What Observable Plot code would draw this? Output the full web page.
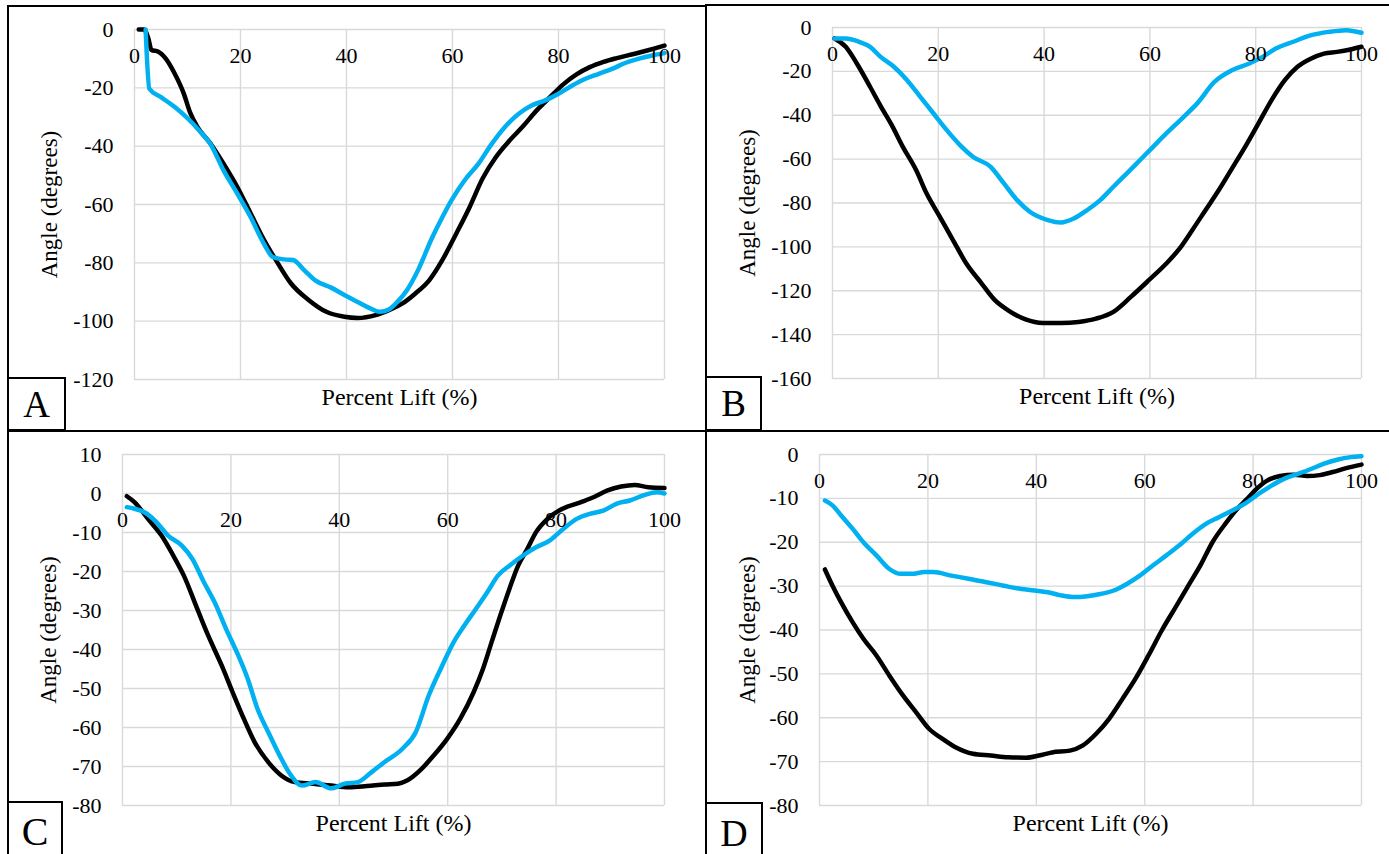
<!DOCTYPE html>
<html>
<head>
<meta charset="utf-8">
<script src="https://cdn.jsdelivr.net/npm/d3@7"></script>
<script src="https://cdn.jsdelivr.net/npm/@observablehq/plot@0.6"></script>
<style>
  html, body { margin: 0; padding: 0; background: #fff; }
  #root { position: relative; width: 1389px; height: 854px; overflow: hidden; background: #fff; font-family: 'Liberation Serif', serif; }
  .panel { position: absolute; }
  .line { position: absolute; background: #000; }
  .letter { position: absolute; box-sizing: border-box; border: 2px solid #000; background: #fff;
            font-family: 'Liberation Serif', serif; font-weight: normal; color: #000;
            display: flex; align-items: center; justify-content: center; }
</style>
</head>
<body>
<div id="root"></div>
<script>
// ---------- data ----------
const xTicks = [0, 20, 40, 60, 80, 100];
const yTicksA = [0, -20, -40, -60, -80, -100, -120];
const yTicksB = [0, -20, -40, -60, -80, -100, -120, -140, -160];
const yTicksC = [10, 0, -10, -20, -30, -40, -50, -60, -70, -80];
const yTicksD = [0, -10, -20, -30, -40, -50, -60, -70, -80];
const xTitle = "Percent Lift (%)";
const yTitle = "Angle (degrees)";
const panelLetters = ["A", "B", "C", "D"];

const aBlack = [[0.8,0],[1.8,0],[2.6,-3],[3.2,-7],[4.5,-7.6],[5.9,-10],[7.6,-15.2],[9.3,-22],[10.5,-28.5],[11.8,-33.2],[14.3,-39],[16.8,-46],[19.4,-54],[21.9,-63],[24.4,-72],[27,-80],[29.5,-87],[32.9,-92.8],[36.2,-96.8],[39.6,-98.5],[42.1,-98.9],[45.5,-97.9],[48,-96.2],[50.5,-94],[53,-90.5],[55.6,-86],[58.1,-79],[60.7,-70],[63.2,-61],[65.7,-51],[68.2,-43.7],[70.8,-38],[73.3,-33.2],[75.8,-27.9],[78.4,-23.2],[80.9,-18.8],[83.4,-15.4],[85.9,-12.9],[88.5,-11.1],[91,-9.8],[94.4,-8.3],[96.9,-7.1],[100,-5.5]];
const aBlue = [[2.1,0],[2.8,-20.3],[5,-23.2],[7.6,-26.6],[10.1,-30.6],[12.2,-34.6],[14.3,-39.2],[16.8,-48.3],[19.4,-56.3],[21.9,-64.3],[24.4,-73.4],[26.1,-78],[28.6,-78.9],[29.9,-79],[32,-82.5],[34.1,-86],[37.1,-88.5],[39.6,-91],[42.1,-93.4],[44.6,-95.7],[46.3,-96.8],[48,-96],[49.6,-93.4],[51.4,-89.4],[53.5,-82.5],[56,-72],[58.1,-64.3],[59.8,-58.6],[62.3,-51.7],[64.9,-46],[67.4,-39.2],[69.9,-33.4],[72.5,-28.9],[75,-26],[77.5,-24.3],[80,-22],[82.6,-19.2],[85.1,-16.9],[87.6,-15.2],[90.1,-13.5],[92.7,-11.4],[95.2,-10],[97.7,-8.9],[100,-8.1]];
const bBlack = [[0.4,-5],[2.5,-8.8],[4.6,-16.4],[7.1,-27],[9.1,-35.8],[11.2,-44.5],[13.3,-54.4],[15.8,-65],[17.8,-75.7],[20.3,-86.3],[22.8,-97],[25.3,-107.6],[28.2,-116.7],[30.7,-124.3],[33.2,-128.9],[36.5,-133.1],[39.8,-134.7],[43.2,-134.7],[46.5,-134.2],[49.8,-132.7],[53.1,-129.6],[56.4,-122.8],[59.8,-115.2],[63.1,-107.6],[65.6,-100.8],[68,-92.4],[70.5,-83.3],[73,-74.2],[75.5,-64.3],[78,-54.4],[80.5,-43.8],[83,-33.1],[85.5,-24],[87.9,-17.9],[90.5,-14.1],[92.9,-11.9],[95.4,-11.1],[97.9,-10],[100,-8.8]];
const bBlue = [[0.4,-5],[2.5,-5],[5,-6.5],[7.1,-8.8],[9.1,-13.4],[11.6,-17.9],[14.1,-24],[16.6,-31.6],[19.1,-39.2],[21.6,-46.8],[24.1,-53.6],[26.6,-59],[29.9,-63.5],[32.4,-71.1],[34.9,-78.7],[37.3,-84],[40.7,-87.8],[43.2,-88.9],[45.6,-87.1],[48.1,-83.3],[50.6,-78.7],[53.1,-72.6],[55.6,-66.6],[58.1,-60.5],[60.6,-54.4],[63.1,-48.3],[66.4,-40.7],[68.9,-34.7],[72.2,-24.8],[75.5,-19.5],[78.8,-16.4],[81.3,-13.4],[83.8,-9.6],[87.1,-6.5],[90.5,-3.5],[93.8,-2],[97.1,-1.2],[100,-2.4]];
const cBlack = [[0.8,-0.7],[2.2,-2.2],[4.7,-6.5],[7.2,-10.8],[9.2,-15.5],[11.3,-21],[13.8,-29.6],[15.8,-36.4],[18.3,-44.1],[20.3,-50.9],[22.4,-57.8],[24.4,-63.8],[26.9,-68.9],[29.3,-72.3],[31.8,-74],[35.2,-74.4],[38.5,-74.9],[41.8,-75.3],[45.1,-75],[48.4,-74.6],[50.8,-74.4],[52.5,-73.6],[54.9,-71],[57.4,-67.2],[59.9,-62.9],[62.3,-57.8],[64.8,-50.9],[66.5,-45],[68.1,-38.1],[69.7,-31.3],[71.4,-24.4],[73,-18.5],[74.7,-14.2],[76.3,-9.9],[78.4,-6.5],[81.2,-3.9],[84.6,-2.2],[87,-0.9],[89.5,0.8],[92,1.8],[94.5,2.2],[97,1.6],[100,1.4]];
const cBlue = [[0.8,-3.5],[2.2,-3.9],[4.3,-5],[6.3,-7.4],[8.4,-10.8],[10.9,-13.3],[12.9,-16.8],[15,-22.7],[17,-27.9],[19.1,-34.7],[21.1,-40.7],[23.1,-47.5],[24.9,-55.2],[26.9,-61.2],[29,-67.2],[31.1,-72.3],[33.1,-74.9],[35.6,-74],[38.5,-75.6],[41,-74.4],[43.4,-74],[45.9,-71.5],[48.3,-68.9],[51.6,-65.5],[54.1,-61.2],[56.5,-51.8],[59,-44.1],[61.1,-38.1],[63.1,-33.8],[65.2,-29.6],[67.3,-25.3],[69.3,-21],[71.4,-18.5],[73.9,-15.9],[76.3,-13.8],[78.8,-12.1],[81.3,-9.1],[83.8,-6.5],[86.2,-5.2],[88.7,-4.4],[91.2,-2.6],[93.6,-1.8],[96.1,-0.5],[98.6,0.3],[100,0]];
const dBlack = [[1,-26.2],[2.4,-29.9],[4,-33.7],[6.1,-38.2],[8.1,-42],[10.5,-45.8],[12.9,-50.4],[15.4,-54.9],[17.8,-58.7],[20.2,-62.5],[22.7,-64.8],[25.1,-66.7],[28.3,-68.2],[31.6,-68.6],[34.8,-69],[38.1,-69.1],[40.5,-68.6],[42.9,-67.9],[46.2,-67.5],[48.6,-66.3],[51,-63.7],[53.4,-60.3],[55.9,-55.7],[58.3,-51.1],[60.7,-45.8],[63.2,-40],[65.6,-35],[68,-30],[70.4,-25],[72.5,-20],[75,-15.6],[77,-12.5],[79,-10],[80.5,-8],[82.5,-6],[85,-4.9],[87.5,-4.6],[90,-4.9],[92.3,-4.7],[94.7,-4],[97.2,-3.1],[100,-2.3]];
const dBlue = [[1,-10.5],[2.4,-11.6],[4,-13.9],[6.1,-16.9],[8.1,-20],[10.5,-23],[12.9,-26.1],[15,-27.2],[17,-27.2],[19.4,-26.8],[21,-26.8],[24.3,-27.6],[27.5,-28.3],[30.8,-29.1],[34,-29.9],[36.4,-30.5],[39.7,-31],[42.1,-31.4],[44.5,-32.1],[47,-32.5],[49.4,-32.3],[51.8,-31.8],[54.3,-31],[56.7,-29.5],[59.1,-27.6],[61.5,-25.3],[64,-23],[66.4,-20.7],[68.8,-18.1],[71.3,-15.8],[73.7,-14.3],[76.1,-12.8],[78.5,-11.2],[81,-9],[83.4,-7.1],[85.8,-5.5],[88.3,-4.4],[90.7,-3.3],[93.1,-2.1],[95.5,-1.2],[98,-0.6],[100,-0.4]];

// ---------- layout ----------
const panels = [
  {left: 8,   top: 6,   width: 698, height: 425, ml: 126, mr: 42, mt: 23, mb: 52, yTicks: yTicksA, black: aBlack, blue: aBlue, titleDx: -85},
  {left: 706, top: 5,   width: 683, height: 426, ml: 126, mr: 28, mt: 22, mb: 53, yTicks: yTicksB, black: bBlack, blue: bBlue, titleDx: -85},
  {left: 8,   top: 431, width: 698, height: 423, ml: 114, mr: 42, mt: 23, mb: 49, yTicks: yTicksC, black: cBlack, blue: cBlue, titleDx: -74},
  {left: 706, top: 431, width: 683, height: 423, ml: 113, mr: 28, mt: 23, mb: 49, yTicks: yTicksD, black: dBlack, blue: dBlue, titleDx: -72}
];
const letterBoxes = [
  {left: 8, top: 378, width: 58, height: 53, size: 37},
  {left: 706, top: 377, width: 56, height: 54, size: 37},
  {left: 8, top: 802, width: 55, height: 60, size: 40},
  {left: 706, top: 803, width: 57, height: 60, size: 38}
];
const font = "'Liberation Serif', serif";
const grid = "#d9d9d9";
const root = document.getElementById("root");

panels.forEach((p) => {
  const yDomain = [d3.min(p.yTicks), d3.max(p.yTicks)];
  const toObj = (arr) => arr.map(([x, y]) => ({x, y}));
  const common = {fontFamily: font, fill: "#000", lineAnchor: "middle"};
  const chart = Plot.plot({
    width: p.width, height: p.height,
    marginLeft: p.ml, marginRight: p.mr, marginTop: p.mt, marginBottom: p.mb,
    x: {domain: [0, 100], axis: null, nice: false},
    y: {domain: yDomain, axis: null, nice: false},
    style: {background: "transparent", overflow: "visible", color: "#000"},
    marks: [
      Plot.ruleX(xTicks, {x: d => d, stroke: grid, strokeWidth: 1.4}),
      Plot.ruleY(p.yTicks, {y: d => d, stroke: grid, strokeWidth: 1.4}),
      Plot.line(toObj(p.black), {x: "x", y: "y", stroke: "#000", strokeWidth: 4.5, curve: "monotone-x", strokeLinejoin: "round", strokeLinecap: "round"}),
      Plot.line(toObj(p.blue), {x: "x", y: "y", stroke: "#00b0f0", strokeWidth: 4.5, curve: "monotone-x", strokeLinejoin: "round", strokeLinecap: "round"}),
      Plot.text(xTicks, {...common, x: d => d, y: () => 0, text: d => String(d), dy: 26, fontSize: 22, textAnchor: "middle"}),
      Plot.text(p.yTicks, {...common, x: () => 0, y: d => d, text: d => String(d), dx: -21, fontSize: 22, textAnchor: "end"}),
      Plot.text([yTitle], {...common, text: d => d, frameAnchor: "left", rotate: -90, dx: p.titleDx, fontSize: 23, textAnchor: "middle"}),
      Plot.text([xTitle], {...common, text: d => d, frameAnchor: "bottom", dy: 18, fontSize: 24, textAnchor: "middle"})
    ]
  });
  const holder = document.createElement("div");
  holder.className = "panel";
  holder.style.left = p.left + "px";
  holder.style.top = p.top + "px";
  holder.appendChild(chart);
  root.appendChild(holder);
});

// panel border lines
const lines = [
  {l: 7, t: 5, w: 700, h: 2},     // A top
  {l: 7, t: 5, w: 2, h: 849},     // left edge A & C
  {l: 705, t: 4, w: 684, h: 2},   // B top
  {l: 705, t: 4, w: 2, h: 850},   // middle divider
  {l: 7, t: 430, w: 1382, h: 2}   // C & D top
];
lines.forEach(s => {
  const d = document.createElement("div");
  d.className = "line";
  Object.assign(d.style, {left: s.l + "px", top: s.t + "px", width: s.w + "px", height: s.h + "px"});
  root.appendChild(d);
});

letterBoxes.forEach((b, i) => {
  const d = document.createElement("div");
  d.className = "letter";
  Object.assign(d.style, {left: (b.left - 1) + "px", top: (b.top - 1) + "px", width: (b.width + 1) + "px", height: (b.height + 1) + "px", fontSize: b.size + "px"});
  d.textContent = panelLetters[i];
  root.appendChild(d);
});
</script>
</body>
</html>
